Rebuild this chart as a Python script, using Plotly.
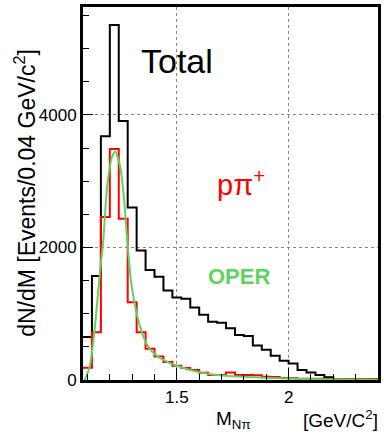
import plotly.graph_objects as go

# bin lower edges (GeV/c^2), bin width 0.04
bin_lo = [1.08, 1.12, 1.16, 1.20, 1.24, 1.28, 1.32, 1.36, 1.40, 1.44,
          1.48, 1.52, 1.56, 1.60, 1.64, 1.68, 1.72, 1.76, 1.80, 1.84,
          1.88, 1.92, 1.96, 2.00, 2.04, 2.08, 2.12, 2.16, 2.20, 2.24,
          2.28, 2.32, 2.36]
x_end = 2.40

total = [650, 1570, 3680, 5360, 3910, 2605, 1955, 1660, 1560, 1350,
         1245, 1225, 1095, 985, 880, 865, 780, 680, 665, 520,
         455, 365, 290, 250, 150, 115, 75, 40, 10, 0,
         0, 0, 0]

ppi = [185, 720, 2460, 3485, 2435, 1175, 720, 470, 355, 270,
       215, 180, 150, 110, 75, 75, 115, 75, 75, 70,
       50, 45, 30, 25, 20, 20, 20, 15, 15, 15,
       15, 15, 15]

oper_x = [1.0875, 1.110, 1.132, 1.154, 1.171, 1.188, 1.210, 1.2245, 1.2466,
          1.264, 1.279, 1.294, 1.308, 1.323, 1.345, 1.367, 1.397, 1.441,
          1.500, 1.559, 1.644, 1.733, 1.851, 1.954, 2.144, 2.40]
oper_y = [0, 200, 755, 1565, 2120, 2920, 3370, 3450, 3220,
          2720, 2065, 1510, 1210, 960, 705, 530, 405, 300,
          215, 150, 90, 60, 40, 25, 10, 5]

FONT = "Liberation Sans"

fig = go.Figure()
fig.add_trace(go.Scatter(x=bin_lo + [x_end], y=total + [total[-1]],
                         mode="lines", line=dict(color="black", width=2, shape="hv"),
                         hoverinfo="skip"))
fig.add_trace(go.Scatter(x=bin_lo + [x_end], y=ppi + [ppi[-1]],
                         mode="lines", line=dict(color="#ff0000", width=2, shape="hv"),
                         hoverinfo="skip"))
fig.add_trace(go.Scatter(x=oper_x, y=oper_y, mode="lines",
                         line=dict(color="#5fd35f", width=2, shape="spline", smoothing=0.6),
                         hoverinfo="skip"))

fig.update_layout(
    width=384, height=434,
    margin=dict(l=83, r=3, t=7, b=54),
    plot_bgcolor="white", paper_bgcolor="white",
    showlegend=False,
    font=dict(family=FONT, color="black"),
)
fig.update_xaxes(
    range=[1.08, 2.40], showline=True, linewidth=3, linecolor="black", mirror=True,
    ticks="inside", tick0=0, dtick=0.5, ticklen=12, tickwidth=1, tickcolor="black",
    minor=dict(dtick=0.1, tick0=0, ticklen=6, ticks="inside", tickcolor="black", showgrid=False),
    showgrid=True, gridcolor="#888888", griddash="dot", gridwidth=1, zeroline=False,
    tickfont=dict(size=17, family=FONT),
)
fig.update_yaxes(
    range=[0, 5630], showline=True, linewidth=3, linecolor="black", mirror=True,
    ticks="inside", tick0=0, dtick=2000, ticklen=10, tickwidth=1, tickcolor="black",
    minor=dict(dtick=500, tick0=0, ticklen=6, ticks="inside", tickcolor="black", showgrid=False),
    showgrid=True, gridcolor="#888888", griddash="dot", gridwidth=1, zeroline=False,
    tickfont=dict(size=17, family=FONT),
)

fig.add_annotation(x=1.50, y=4820, xref="x", yref="y", text="Total", showarrow=False,
                   xanchor="center", yanchor="middle",
                   font=dict(size=34, family=FONT, color="black"))
fig.add_annotation(x=1.785, y=2975, xref="x", yref="y", text="pπ<sup>+</sup>", showarrow=False,
                   xanchor="center", yanchor="middle",
                   font=dict(size=29, family=FONT, color="#ff0000"))
fig.add_annotation(x=1.78, y=1555, xref="x", yref="y", text="<b>OPER</b>", showarrow=False,
                   xanchor="center", yanchor="middle",
                   font=dict(size=22, family=FONT, color="#5fd35f"))
fig.add_annotation(x=1.755, y=-0.108, xref="x", yref="paper", text="M<sub>Nπ</sub>",
                   showarrow=False, xanchor="center", yanchor="middle",
                   font=dict(size=19, family=FONT, color="black"))
fig.add_annotation(x=2.23, y=-0.105, xref="x", yref="paper", text="[GeV/C<sup>2</sup>]",
                   showarrow=False, xanchor="center", yanchor="middle",
                   font=dict(size=19, family=FONT, color="black"))
fig.add_annotation(x=-0.195, y=0.503, xref="paper", yref="paper", textangle=-90,
                   text="dN/dM [Events/0.04 GeV/c<sup>2</sup>]", showarrow=False,
                   xanchor="center", yanchor="middle",
                   font=dict(size=23, family=FONT, color="black"))

fig.write_html("out.html")
